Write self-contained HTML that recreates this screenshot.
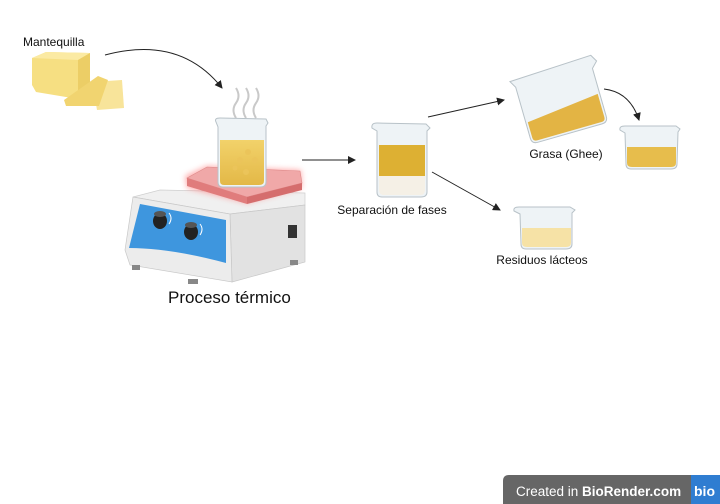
<!DOCTYPE html>
<html><head><meta charset="utf-8"><style>
html,body{margin:0;padding:0;background:#fff;}
svg{display:block;font-family:"Liberation Sans",sans-serif;}
</style></head><body>
<svg width="720" height="504" viewBox="0 0 720 504" xmlns="http://www.w3.org/2000/svg">
<defs>
<marker id="ah" markerWidth="8" markerHeight="8" refX="7" refY="4" orient="auto" markerUnits="userSpaceOnUse">
<path d="M0,0 L8,4 L0,8 Z" fill="#222"/></marker>
<filter id="glow" x="-20%" y="-40%" width="140%" height="180%"><feGaussianBlur stdDeviation="3"/></filter>
<linearGradient id="liq" x1="0" y1="0" x2="0" y2="1"><stop offset="0" stop-color="#f2d26a"/><stop offset="1" stop-color="#e3b847"/></linearGradient>
</defs>

<!-- Mantequilla -->
<text x="23" y="46" font-size="12" fill="#111">Mantequilla</text>
<polygon points="32,58 46,52 90,53 90,88 72,98 36,92 32,85" fill="#f6df82"/>
<polygon points="32,58 46,52 90,53 78,60" fill="#fbeaa3"/>
<polygon points="78,60 90,53 90,88 78,94" fill="#ecce66"/>
<polygon points="92,82 122,80 124,108 97,110" fill="#f8e49a"/>
<polygon points="64,100 98,76 108,80 99,106 66,106" fill="#f1d470"/>
<path d="M105,55 Q180,35 222,88" fill="none" stroke="#222" stroke-width="1" marker-end="url(#ah)"/>

<!-- steam -->
<g fill="none" stroke="#c9c9c9" stroke-width="2">
<path d="M236,118 q-5,-8 0,-15 q5,-7 0,-15"/>
<path d="M246,118 q-5,-8 0,-15 q5,-7 0,-15"/>
<path d="M256,118 q-5,-8 0,-15 q5,-7 0,-15"/>
</g>

<!-- hotplate body -->
<polygon points="133,197 160,190 305,193 305,205 230,214" fill="#f0f0f0" stroke="#cfcfcf" stroke-width="0.7"/>
<polygon points="230,214 305,205 305,262 232,282" fill="#e2e2e2" stroke="#c8c8c8" stroke-width="0.7"/>
<polygon points="133,197 230,214 232,282 130,265 125,250" fill="#ececec" stroke="#c8c8c8" stroke-width="0.7"/>
<path d="M140,204 L226,220 L226,263 Q170,248 129,248 Z" fill="#3e96de"/>
<rect x="288" y="225" width="9" height="13" fill="#333"/>
<rect x="132" y="265" width="8" height="5" fill="#888"/>
<rect x="188" y="279" width="10" height="5" fill="#888"/>
<rect x="290" y="260" width="8" height="5" fill="#888"/>
<g fill="#222"><ellipse cx="160" cy="221" rx="7" ry="8"/><ellipse cx="191" cy="232" rx="7" ry="8"/></g>
<g fill="#555"><ellipse cx="160" cy="214" rx="6" ry="3"/><ellipse cx="191" cy="225" rx="6" ry="3"/></g>
<path d="M169,213 q4,5 0,11" stroke="#fff" fill="none" stroke-width="1"/>
<path d="M200,224 q4,5 0,11" stroke="#fff" fill="none" stroke-width="1"/>

<!-- red plate -->
<polygon points="185,176 207,166 301,170 302,188 247,203 187,188" fill="#ff6b6b" opacity="0.55" filter="url(#glow)"/>
<polygon points="187,178 207,167 300,171 302,183 247,197" fill="#f0a8a8" stroke="#d88" stroke-width="0.6"/>
<polygon points="187,178 247,197 247,204 187,186" fill="#e07c7c"/>
<polygon points="247,197 302,183 302,190 247,204" fill="#d56d6d"/>

<!-- beaker on plate -->
<path d="M216,122 Q214,118 220,118 L266,119 L268,123 L266,126 L266,182 Q266,187 260,187 L223,187 Q218,187 218,182 L218,127 Z" fill="#eef3f6" stroke="#b8c2c8" stroke-width="1"/>
<path d="M220,140 L264,140 L264,181 Q264,185 259,185 L224,185 Q220,185 220,181 Z" fill="url(#liq)"/>
<g fill="#ebc45a"><circle cx="240" cy="160" r="3"/><circle cx="248" cy="152" r="3"/><circle cx="235" cy="168" r="2.5"/><circle cx="255" cy="160" r="3"/><circle cx="246" cy="172" r="3"/></g>

<text x="168" y="303" font-size="17" fill="#111">Proceso térmico</text>

<line x1="302" y1="160" x2="355" y2="160" stroke="#222" stroke-width="1" marker-end="url(#ah)"/>

<!-- separation beaker -->
<path d="M372,128 Q371,123 377,123 L426,124 L430,128 L427,131 L427,192 Q427,197 421,197 L382,197 Q377,197 377,192 L377,131 Z" fill="#eef3f6" stroke="#b8c2c8" stroke-width="1"/>
<path d="M379,145 L425,145 L425,176 L379,176 Z" fill="#ddb033"/>
<path d="M379,176 L425,176 L425,190 Q425,195 420,195 L384,195 Q379,195 379,190 Z" fill="#f5f0e6"/>
<text x="392" y="214" font-size="12" fill="#111" text-anchor="middle">Separación de fases</text>

<line x1="428" y1="117" x2="504" y2="100" stroke="#222" stroke-width="1" marker-end="url(#ah)"/>
<line x1="432" y1="172" x2="500" y2="210" stroke="#222" stroke-width="1" marker-end="url(#ah)"/>

<!-- pouring beaker -->
<g transform="rotate(-16 562 100)">
<path d="M517,68 L602,65 L606,72 L600,78 L600,128 Q600,134 594,134 L527,134 Q521,134 521,128 L521,75 Z" fill="#eef3f6" stroke="#b8c2c8" stroke-width="1"/>
<path d="M523,112 L598,104 L598,128 Q598,132 594,132 L527,132 Q523,132 523,128 Z" fill="#e3b444"/>
</g>
<text x="566" y="158" font-size="12" fill="#111" text-anchor="middle">Grasa (Ghee)</text>
<path d="M604,89 Q630,92 639,120" fill="none" stroke="#222" stroke-width="1" marker-end="url(#ah)"/>

<!-- ghee beaker -->
<path d="M620,130 Q619,126 625,126 L676,126 L680,129 L678,132 L677,164 Q677,169 671,169 L631,169 Q626,169 626,164 L625,133 Z" fill="#eef3f6" stroke="#b8c2c8" stroke-width="1"/>
<path d="M627,147 L676,147 L676,163 Q676,167 671,167 L632,167 Q627,167 627,163 Z" fill="#e7bd4c"/>

<!-- residuos beaker -->
<path d="M514,211 Q513,207 519,207 L570,207 L575,210 L572,213 L572,244 Q572,249 566,249 L526,249 Q521,249 521,244 L520,214 Z" fill="#eef3f6" stroke="#b8c2c8" stroke-width="1"/>
<path d="M522,228 L571,228 L571,243 Q571,247 566,247 L527,247 Q522,247 522,243 Z" fill="#f6e2a6"/>
<text x="542" y="264" font-size="12" fill="#111" text-anchor="middle">Residuos lácteos</text>

<!-- watermark -->
<path d="M503,504 L503,481 Q503,475 509,475 L720,475 L720,504 Z" fill="#666"/>
<rect x="691" y="475" width="29" height="29" fill="#2f7dd1"/>
<text x="516" y="496" font-size="13.5" fill="#fff">Created in <tspan font-weight="bold">BioRender.com</tspan></text>
<text x="694" y="496" font-size="14" font-weight="bold" fill="#fff">bio</text>
</svg>
</body></html>
